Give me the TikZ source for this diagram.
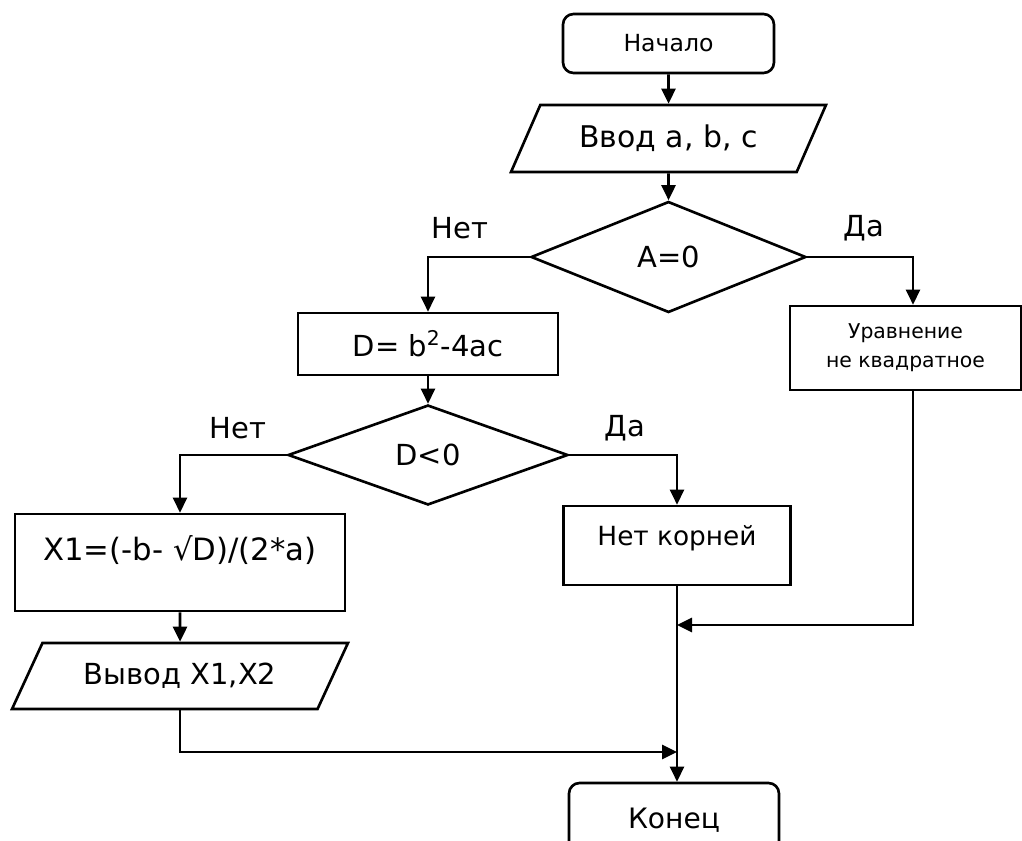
\documentclass[tikz,border=0pt]{standalone}
\usepackage{fontspec}
\setmainfont{DejaVu Sans}
\usetikzlibrary{arrows.meta, positioning, shapes.geometric}

\begin{document}
\begin{tikzpicture}[x=0.02cm, y=-0.02cm, line width=1.5pt,
      every node/.style={font=\fontsize{16.5}{19}\selectfont},
      box/.style={draw, rectangle, align=center, inner sep=0pt},
      term/.style={box, rounded corners=6pt},
      io/.style={draw, trapezium, trapezium stretches body, inner sep=0pt},
      cond/.style={draw, diamond, inner sep=0pt},
      arr/.style={-{Triangle[length=3mm, width=2.8mm]}}]
    \useasboundingbox (0,0) rectangle (1022,841);
    \clip (0,0) rectangle (1022,841);
    \node[term, minimum width=4.22cm, minimum height=1.18cm,
          font=\fontsize{13.4}{16}\selectfont] (start) at (668.5,43.5) {Начало};
    \node[io, trapezium left angle=42.5, trapezium right angle=137.5,
          minimum width=6.3cm, minimum height=1.34cm,
          font=\fontsize{17}{20}\selectfont] (in) at (668.5,138.5) {Ввод a, b, c};
    \node[cond, minimum width=5.5cm, minimum height=2.22cm] (ifa) at (668.5,257) {A=0};
    \node[box, minimum width=5.2cm, minimum height=1.24cm] (disc) at (428,344) {D= b\textsuperscript{2}-4ac};
    \node[box, minimum width=4.62cm, minimum height=1.68cm,
          font=\fontsize{11.6}{16.5}\selectfont] (nsq) at (905.5,348) {Уравнение\\не квадратное};
    \node[cond, minimum width=5.6cm, minimum height=2cm] (ifd) at (428,455) {D<0};
    \node[box, minimum width=6.6cm, minimum height=1.94cm,
          font=\fontsize{17.5}{17}\selectfont] (x1) at (180,562.5) {X1=(-b- √D)/(2*a)\\\mbox{}};
    \node[io, trapezium left angle=40, trapezium right angle=140,
          minimum width=6.72cm, minimum height=1.32cm] (out) at (180,676) {Вывод X1,X2};
    \node[box, minimum width=4.54cm, minimum height=1.58cm,
          font=\fontsize{15}{17}\selectfont] (nor) at (677,545.5) {Нет корней\\[-6pt]\mbox{}};
    \node[term, minimum width=4.2cm, minimum height=1.48cm,
          font=\fontsize{16}{19}\selectfont] (stop) at (674,820) {Конец};
    \node (no1) at (460,228) {Нет};
    \node (yes1) at (864,228) {Да};
    \node (no2) at (238,428) {Нет};
    \node (yes2) at (625,428) {Да};
    \coordinate (j1) at (677,625);
    \coordinate (j2) at (677,752);
    \draw[arr] (start) -- (in);
    \draw[arr] (in) -- (ifa);
    \draw[arr] (ifa.west) -| (disc.north);
    \draw[arr] (ifa.east) -| ([xshift=0.15cm]nsq.north);
    \draw[arr] (disc) -- (ifd);
    \draw[arr] (ifd.west) -| (x1.north);
    \draw[arr] (ifd.east) -| (nor.north);
    \draw[arr] (x1) -- (out);
    \draw[arr] (out.south) |- (j2);
    \draw[arr] ([xshift=0.15cm]nsq.south) |- (j1);
    \draw[arr] (nor) -- (nor |- stop.north);
  \end{tikzpicture}
\end{document}
